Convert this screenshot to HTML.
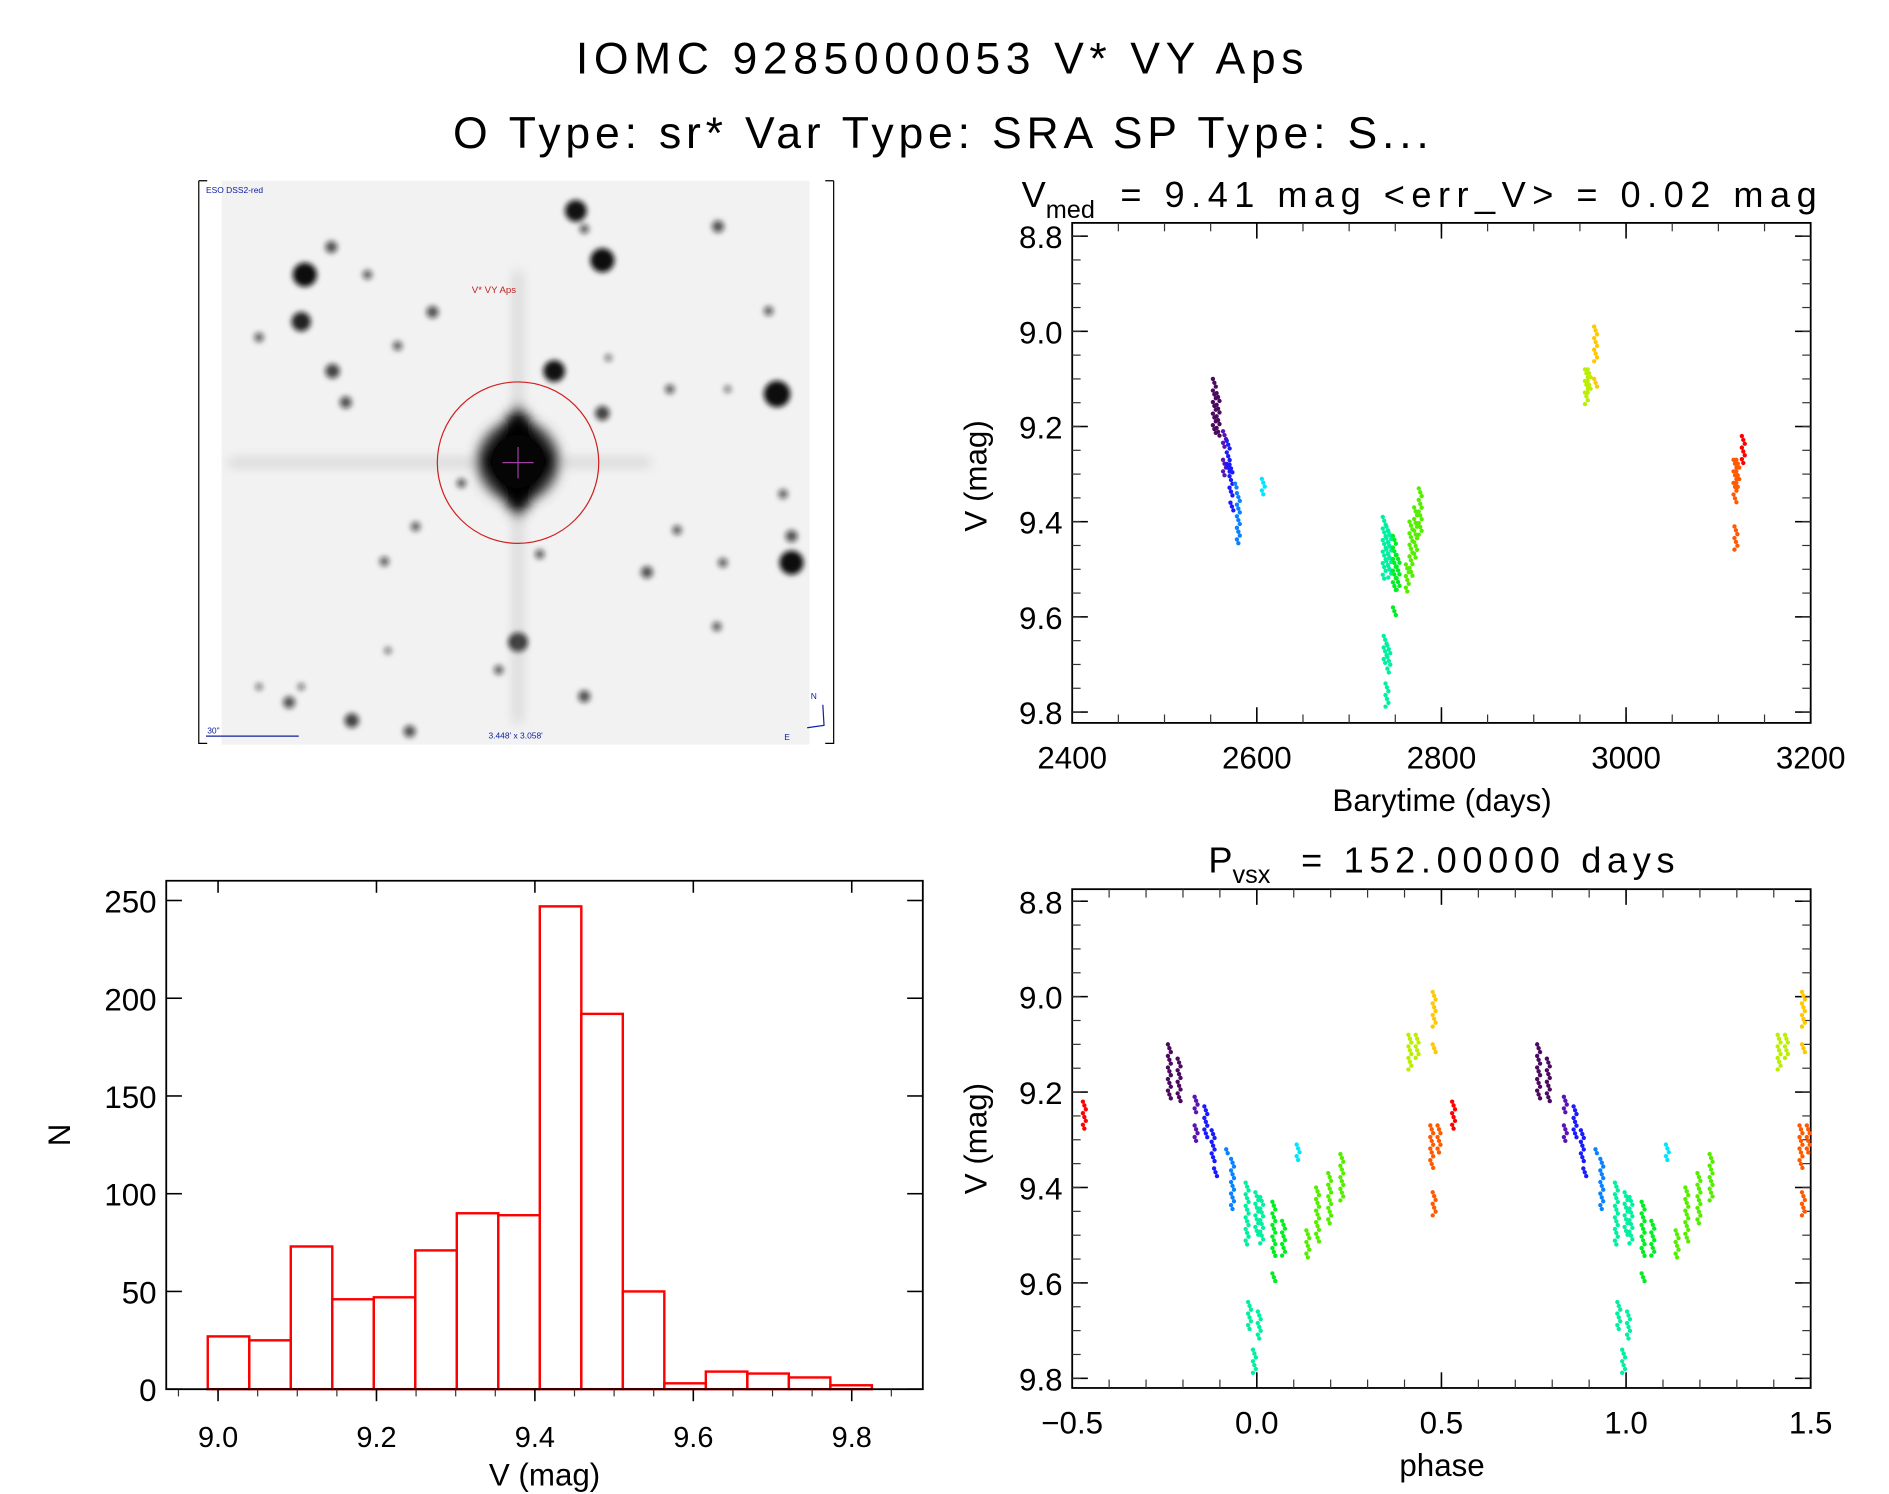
<!DOCTYPE html>
<html><head><meta charset="utf-8"><style>
html,body{margin:0;padding:0;background:#fff;}
svg{display:block;}
text{font-family:"Liberation Sans",sans-serif;fill:#000;}
</style></head><body>
<svg id="fig" width="1889" height="1494" viewBox="0 0 1568 1240" preserveAspectRatio="none" xmlns="http://www.w3.org/2000/svg">
<defs>
<filter id="blur2" x="-50%" y="-50%" width="200%" height="200%"><feGaussianBlur stdDeviation="2.2"/></filter>
<filter id="blur6" x="-50%" y="-50%" width="200%" height="200%"><feGaussianBlur stdDeviation="5"/></filter>
</defs>
<text x="478" y="61" font-size="37" textLength="604" lengthAdjust="spacing">IOMC 9285000053   V* VY Aps</text>
<text x="376" y="123" font-size="37" textLength="810" lengthAdjust="spacing">O Type: sr*  Var Type: SRA  SP Type: S...</text>

<g>
  <rect x="184" y="150" width="488" height="468" fill="#f2f2f2"/>
  <g id="stars" filter="url(#blur2)"></g>
  <g filter="url(#blur6)">
    <line x1="190" y1="384" x2="540" y2="384" stroke="#aaa" stroke-width="3"/>
    <line x1="430" y1="225" x2="430" y2="600" stroke="#aaa" stroke-width="3"/>
    <circle cx="430" cy="383" r="34" fill="#444"/>
    <polygon points="430,335 465,383 430,431 395,383" fill="#000"/>
  </g>
  <circle cx="430" cy="383" r="22" fill="#050505"/>
  <circle cx="430" cy="384" r="67" fill="none" stroke="#d02020" stroke-width="1"/>
  <line x1="417" y1="384" x2="443" y2="384" stroke="#a040a0" stroke-width="1"/>
  <line x1="430" y1="371" x2="430" y2="397" stroke="#a040a0" stroke-width="1"/>
  <text x="410" y="243" font-size="8" style="fill:#c02020" text-anchor="middle">V* VY Aps</text>
  <text x="171" y="160" font-size="7" style="fill:#1020a0">ESO DSS2-red</text>
  <text x="172" y="609" font-size="7" style="fill:#1020a0">30"</text>
  <line x1="171" y1="611" x2="248" y2="611" stroke="#1020a0" stroke-width="1"/>
  <text x="428" y="613" font-size="7" style="fill:#1020a0" text-anchor="middle">3.448' x 3.058'</text>
  <path d="M683,585 L684,602 L670,604" fill="none" stroke="#1020a0" stroke-width="1"/>
  <text x="673" y="580" font-size="7" style="fill:#1020a0">N</text>
  <text x="651" y="614" font-size="7" style="fill:#1020a0">E</text>
  <path d="M165,150 H172 M165,150 V617 H172 M692,150 H685 M692,150 V617 H685" fill="none" stroke="#000" stroke-width="1"/>
</g>

<g id="lc"></g>
<g id="ph"></g>
<g id="hist"></g>
</svg>
<script>
// ---- data ----
const streakTime = [2554,2558,2565,2565,2569,2572,2573,2580,2578,2607,2738,2742,2744,2739,2743,2741,2749,2753,2749,2763,2767,2772,2777,2957,2960,2967,2967,3118,3121,3119,3127];
const streakTop  = [9.10,9.13,9.21,9.27,9.23,9.28,9.36,9.34,9.32,9.31,9.39,9.41,9.42,9.64,9.66,9.74,9.43,9.47,9.58,9.49,9.40,9.37,9.33,9.08,9.08,8.99,9.10,9.27,9.27,9.41,9.22];
const streakBot  = [9.22,9.22,9.25,9.31,9.30,9.35,9.38,9.45,9.33,9.35,9.52,9.50,9.52,9.70,9.72,9.79,9.55,9.55,9.60,9.55,9.52,9.48,9.43,9.16,9.13,9.07,9.12,9.36,9.33,9.46,9.28];
const streakColor = ["#4b0a5e","#4b0a5e","#5a14b4","#5a14b4","#1a1aff","#1a1aff","#1a1aff","#0a82ff","#0a82ff","#00e6ff","#00f0a0","#00f0a0","#00f0a0","#00f0a0","#00f0a0","#00f0a0","#00ee22","#00ee22","#00ee22","#55ee00","#55ee00","#55ee00","#55ee00","#bbee00","#bbee00","#ffc800","#ffc800","#ff5a00","#ff5a00","#ff5a00","#ff0000"];
const period = 152.0;
const epoch = 2590;
const lcXTicks = [2400,2600,2800,3000,3200];
const magTicks = [8.8,9.0,9.2,9.4,9.6,9.8];
const phXTicks = [-0.5,0.0,0.5,1.0,1.5];
const histCounts = [27,25,73,46,47,71,90,89,247,192,50,3,9,8,6,2];
const histStart = 8.987;
const histWidth = 0.0524;
const histXTicks = [9.0,9.2,9.4,9.6,9.8];
const histYTicks = [0,50,100,150,200,250];
const starsData = [[253,228,10],[250,267,8],[478,175,9],[500,216,10],[460,308,9],[645,327,11],[657,467,10],[657,445,5],[430,533,8],[276,308,6],[292,598,6],[485,578,5],[275,205,5],[287,334,5],[215,280,4],[330,287,4],[359,259,5],[383,401,4],[305,228,4],[500,343,6],[537,475,5],[596,188,5],[600,467,4],[556,323,4],[604,323,3],[448,460,4],[319,466,4],[345,437,4],[250,570,3],[240,583,5],[340,607,5],[414,556,4],[485,190,4],[595,520,4],[638,258,4],[650,410,4],[322,540,3],[215,570,3],[562,440,4],[505,297,3]];

const NS='http://www.w3.org/2000/svg';
function mk(parent, tag, attrs){ const e=document.createElementNS(NS,tag); for(const k in attrs) e.setAttribute(k,attrs[k]); parent.appendChild(e); return e; }
function txt(parent, x, y, s, size, anchor){ const e=mk(parent,'text',{x:x,y:y,'font-size':size,'text-anchor':anchor||'middle'}); e.textContent=s; return e; }

const sg=document.getElementById('stars');
starsData.forEach(s=>{ const c=mk(sg,'circle',{cx:s[0],cy:s[1],r:s[2],fill:'#111','fill-opacity':Math.min(1,0.35+s[2]*0.07)});

 });

function axes(g, L,R,T,B, xmin,xmax, ymin,ymax, xMajor, xMinorStep, yMajor, xFmt, yFmt){
  const sx=v=>L+(v-xmin)/(xmax-xmin)*(R-L);
  const sy=v=>T+(v-ymin)/(ymax-ymin)*(B-T);
  const fr=mk(g,'rect',{x:L,y:T,width:R-L,height:B-T,fill:'none',stroke:'#000','stroke-width':1.5});
  
  
  for(let v=xmin; v<=xmax+1e-9; v+=xMinorStep){ const x=sx(v); mk(g,'line',{x1:x,y1:B,x2:x,y2:B-7,stroke:'#333'}); mk(g,'line',{x1:x,y1:T,x2:x,y2:T+7,stroke:'#333'}); }
  xMajor.forEach(v=>{ const x=sx(v); mk(g,'line',{x1:x,y1:B,x2:x,y2:B-13,stroke:'#000','stroke-width':1.3}); mk(g,'line',{x1:x,y1:T,x2:x,y2:T+13,stroke:'#000','stroke-width':1.3});
    const t=txt(g,x,B+38,xFmt(v),26);
    
     });
  yMajor.forEach(v=>{ const y=sy(v); mk(g,'line',{x1:L,y1:y,x2:L+13,y2:y,stroke:'#000','stroke-width':1.3}); mk(g,'line',{x1:R,y1:y,x2:R-13,y2:y,stroke:'#000','stroke-width':1.3});
    const t=txt(g,L-8,y+10,yFmt(v),26,'end');
    
     });
  return [sx,sy];
}
function dotsStreak(g, x, top, bot, color, sy, clipL, clipR){
  if(x<clipL-2||x>clipR+2) return;
  const y1=sy(top), y2=sy(bot);
  let k=0;
  for(let y=y1; y<=y2+0.01; y+=3.2){ mk(g,'circle',{cx:x+((k%3)-1)*1.2,cy:y,r:1.8,fill:color}); k++; }
}

(function(){
  const g=document.getElementById('lc');
  const L=890,R=1503,T=185,B=600;
  const ymin=8.8-(196-185)/395, ymax=8.8+(600-196)/395;
  const [sx,sy]=axes(g,L,R,T,B,2400,3200,ymin,ymax,lcXTicks,50,magTicks,v=>String(v),v=>v.toFixed(1));
  for(let v=8.8; v<=9.81; v+=0.05){ const y=sy(v); mk(g,'line',{x1:L,y1:y,x2:L+7,y2:y,stroke:'#333'}); mk(g,'line',{x1:R,y1:y,x2:R-7,y2:y,stroke:'#333'}); }
  streakTime.forEach((t,i)=>{ const s=mk(g,'g',{});
    
    
    dotsStreak(s,sx(t),streakTop[i],streakBot[i],streakColor[i],sy,L,R); });
  const tt=mk(g,'text',{x:848,y:172,'font-size':30,'text-anchor':'start'});
  
  
  tt.innerHTML='V<tspan font-size="21" dy="9">med</tspan><tspan dy="-9" x="930" textLength="578" lengthAdjust="spacing">= 9.41 mag &lt;err_V&gt; = 0.02 mag</tspan>';
  const xl=txt(g,1197,673,'Barytime (days)',26);
  
  
  const yl=txt(g,0,0,'V (mag)',26); yl.setAttribute('transform','translate(819,395) rotate(-90)');
  
  
})();

(function(){
  const g=document.getElementById('ph');
  const L=890,R=1503,T=738,B=1152;
  const ymin=8.8-(748-738)/396, ymax=8.8+(1152-748)/396;
  const [sx,sy]=axes(g,L,R,T,B,-0.5,1.5,ymin,ymax,phXTicks,0.1,magTicks,v=>(v<0?'\u22120.5':v.toFixed(1)),v=>v.toFixed(1));
  for(let v=8.8; v<=9.81; v+=0.05){ const y=sy(v); mk(g,'line',{x1:L,y1:y,x2:L+7,y2:y,stroke:'#333'}); mk(g,'line',{x1:R,y1:y,x2:R-7,y2:y,stroke:'#333'}); }
  streakTime.forEach((t,i)=>{ let p=((t-epoch)/period)%1; if(p<0)p+=1;
    [p-1,p,p+1].forEach(q=>{ if(q<-0.51||q>1.51) return; const s=mk(g,'g',{});
      
      
      dotsStreak(s,sx(q),streakTop[i],streakBot[i],streakColor[i],sy,L,R); }); });
  const tt=mk(g,'text',{x:1003,y:724,'font-size':30,'text-anchor':'start'});
  
  
  tt.innerHTML='P<tspan font-size="21" dy="9">vsx</tspan><tspan dy="-9" x="1080" textLength="310" lengthAdjust="spacing">= 152.00000 days</tspan>';
  const xl=txt(g,1197,1225,'phase',26);
  
  
  const yl=txt(g,0,0,'V (mag)',26); yl.setAttribute('transform','translate(819,945) rotate(-90)');
  
  
})();

(function(){
  const g=document.getElementById('hist');
  const L=138,R=766,T=731,B=1153;
  const xmin=9.0-(181-138)/526*0.8, xmax=9.0+(766-181)/526*0.8;
  const ymax=(B-T)/(B-747.4)*250;
  const sx=v=>L+(v-xmin)/(xmax-xmin)*(R-L);
  const sy=v=>B-v/ymax*(B-T);
  histCounts.forEach((c,i)=>{ const x0=sx(histStart+i*histWidth), x1=sx(histStart+(i+1)*histWidth);
    const r=mk(g,'rect',{x:x0,y:sy(c),width:x1-x0,height:B-sy(c),fill:'none',stroke:'#ff0000','stroke-width':2});
    
     });
  mk(g,'path',{d:`M${L},${T} H${R} V${B} H${L} Z`,fill:'none',stroke:'#000','stroke-width':1.5});
  for(let v=8.95; v<=xmax; v+=0.05){ const x=sx(v); mk(g,'line',{x1:x,y1:B,x2:x,y2:B+6,stroke:'#333'}); }
  histXTicks.forEach(v=>{ const x=sx(v); mk(g,'line',{x1:x,y1:B,x2:x,y2:B+10,stroke:'#000','stroke-width':1.3}); mk(g,'line',{x1:x,y1:T,x2:x,y2:T+10,stroke:'#000','stroke-width':1.3});
    const t=txt(g,x,B+48,v.toFixed(1),24);
    
     });
  histYTicks.forEach(v=>{ const y=sy(v); mk(g,'line',{x1:L,y1:y,x2:L+13,y2:y,stroke:'#000','stroke-width':1.3}); mk(g,'line',{x1:R,y1:y,x2:R-13,y2:y,stroke:'#000','stroke-width':1.3});
    const t=txt(g,L-8,y+10,String(v),26,'end');
    
     });
  const xl=txt(g,452,1233,'V (mag)',26);
  
  
  const yl=txt(g,0,0,'N',26); yl.setAttribute('transform','translate(58,942) rotate(-90)');
  
  
})();
</script>
</body></html>
